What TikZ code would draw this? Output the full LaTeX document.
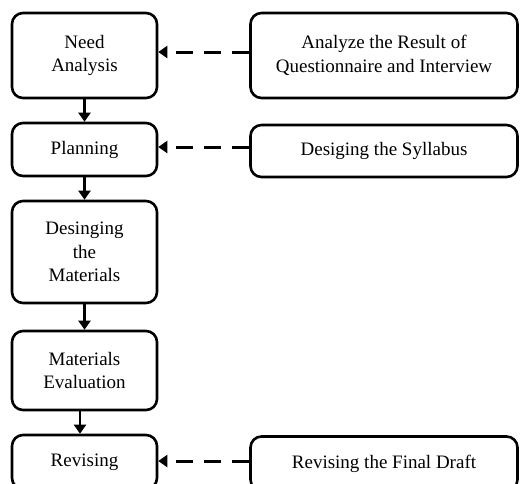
\documentclass[tikz,border=0pt]{standalone}
\usepackage{fontspec}
\setmainfont{Liberation Serif}
\usetikzlibrary{positioning,arrows.meta}

\tikzset{
  stage/.style={draw,line width=2.6pt,rounded corners=11pt,align=center,
    minimum width=145pt,inner sep=2pt,font=\fontsize{19}{23.5}\selectfont},
  task/.style={stage,minimum width=267pt},
  flow/.style={line width=2.6pt,-{Triangle[length=9pt,width=12pt]}},
  feed/.style={flow,line width=3pt,dash pattern=on 17pt off 11pt}
}

\begin{document}
\begin{tikzpicture}[x=1pt,y=-1pt]
			\useasboundingbox (0,0) rectangle (526,483);
			\clip (0,0) rectangle (526,483);
			% left column
			\node[stage,minimum height=85pt] (need) at (84.5,55.5) {Need\\Analysis};
			\node[stage,minimum height=53pt] (plan) at (84.5,149.5) {Planning};
			\node[stage,minimum height=102pt] (design) at (84.5,252) {Desinging\\the\\Materials};
			\node[stage,minimum height=79pt] (eval) at (84.5,370.5) {Materials\\Evaluation};
			\node[stage,minimum height=54pt] (revise) at (84.5,462) {Revising};
			% right column
			\node[task,minimum height=85pt] (result) at (384,55.5) {Analyze the Result of\\Questionnaire and Interview};
			\node[task,minimum height=52pt] (syllabus) at (384,151) {Desiging the Syllabus};
			\node[task,minimum height=54pt] (draft) at (384,463.5) {Revising the Final Draft};

			\begin{scope}
			\draw[flow] (need) -- (plan);
			\draw[flow] (plan) -- (design);
			\draw[flow] (design) -- (eval);
			\draw[flow] (eval.south -| 80,0) -- (revise.north -| 80,0);
			\end{scope}

			\begin{scope}
			\draw[feed] (result.west |- 0,52) -- (need.east |- 0,52);
			\draw[feed] (syllabus.west |- 0,147) -- (plan.east |- 0,147);
			\draw[feed] (draft.west |- 0,461) -- (revise.east |- 0,461);
			\end{scope}
\end{tikzpicture}
\end{document}
